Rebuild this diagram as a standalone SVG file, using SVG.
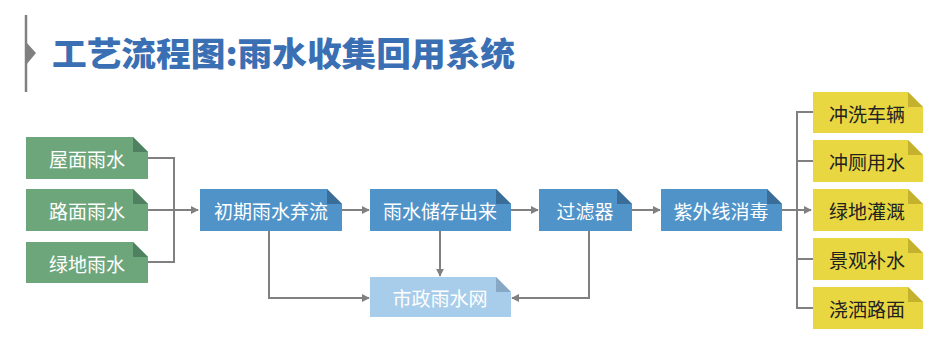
<svg xmlns="http://www.w3.org/2000/svg" width="952" height="363" viewBox="0 0 952 363">
<defs>
<style>
.t{font-family:"Noto Sans CJK SC","Noto Sans",sans-serif;font-size:19px;text-anchor:middle;dominant-baseline:central}
.w{fill:#ffffff}
.k{fill:#222222}
.g{fill:#6ea67c}.gf{fill:#4f8160}
.b{fill:#4f93c9}.bf{fill:#3a6e98}
.lb{fill:#a8cdea}.lbf{fill:#86a8c5}
.y{fill:#e8d740}.yf{fill:#c4b22e}
.ln{fill:none;stroke:#808080;stroke-width:2}
</style>
<marker id="ar" viewBox="0 0 10 10" refX="9" refY="5" markerWidth="8" markerHeight="8" orient="auto" markerUnits="userSpaceOnUse">
<path d="M0,0 L10,5 L0,10 z" fill="#808080"/>
</marker>
</defs>
<rect width="952" height="363" fill="#ffffff"/>
<g id="title">
<path d="M26,15 V92" stroke="#808080" stroke-width="2.5" fill="none"/>
<path d="M26,42 L36,53 L26,65 z" fill="#808080"/>
<text x="52" y="66" font-family="'Noto Sans CJK SC','Noto Sans',sans-serif" font-size="33" font-weight="900" fill="#3b6fb4" textLength="463" lengthAdjust="spacingAndGlyphs">工艺流程图:雨水收集回用系统</text>
</g>
<g id="connectors">
<path class="ln" d="M148,158 H174 V262 H148"/>
<path class="ln" d="M148,210 H198" marker-end="url(#ar)"/>
<path class="ln" d="M342,210 H369" marker-end="url(#ar)"/>
<path class="ln" d="M511,210 H538" marker-end="url(#ar)"/>
<path class="ln" d="M632,210 H660" marker-end="url(#ar)"/>
<path class="ln" d="M782,210 H811" marker-end="url(#ar)"/>
<path class="ln" d="M269,231 V298 H369" marker-end="url(#ar)"/>
<path class="ln" d="M440,231 V276" marker-end="url(#ar)"/>
<path class="ln" d="M589,231 V298 H512" marker-end="url(#ar)"/>
<path class="ln" d="M813,112 H797 V308 H813 M797,161 H813 M797,259 H813"/>
</g>
<g id="n1"><path class="g" d="M26,137 H133 L148,152 V179 H26 z"/><path class="gf" d="M133,137 L148,152 H133 z"/><text class="t w" x="87" y="158">屋面雨水</text></g>
<g id="n2"><path class="g" d="M26,189 H133 L148,204 V231 H26 z"/><path class="gf" d="M133,189 L148,204 H133 z"/><text class="t w" x="87" y="210">路面雨水</text></g>
<g id="n3"><path class="g" d="M26,242 H133 L148,257 V283 H26 z"/><path class="gf" d="M133,242 L148,257 H133 z"/><text class="t w" x="87" y="263">绿地雨水</text></g>
<g id="n4"><path class="b" d="M200,189 H327 L342,204 V231 H200 z"/><path class="bf" d="M327,189 L342,204 H327 z"/><text class="t w" x="271" y="210">初期雨水弃流</text></g>
<g id="n5"><path class="b" d="M370,189 H496 L511,204 V231 H370 z"/><path class="bf" d="M496,189 L511,204 H496 z"/><text class="t w" x="440" y="210">雨水储存出来</text></g>
<g id="n6"><path class="b" d="M539,189 H617 L632,204 V231 H539 z"/><path class="bf" d="M617,189 L632,204 H617 z"/><text class="t w" x="585" y="210">过滤器</text></g>
<g id="n7"><path class="b" d="M661,189 H767 L782,204 V231 H661 z"/><path class="bf" d="M767,189 L782,204 H767 z"/><text class="t w" x="721" y="210">紫外线消毒</text></g>
<g id="n8"><path class="lb" d="M370,277 H496 L511,292 V317 H370 z"/><path class="lbf" d="M496,277 L511,292 H496 z"/><text class="t w" x="440" y="297">市政雨水网</text></g>
<g id="n9"><path class="y" d="M813,92 H908 L923,107 V133 H813 z"/><path class="yf" d="M908,92 L923,107 H908 z"/><text class="t k" x="867" y="113">冲洗车辆</text></g>
<g id="n10"><path class="y" d="M813,140 H908 L923,155 V182 H813 z"/><path class="yf" d="M908,140 L923,155 H908 z"/><text class="t k" x="867" y="161">冲厕用水</text></g>
<g id="n11"><path class="y" d="M813,189 H908 L923,204 V231 H813 z"/><path class="yf" d="M908,189 L923,204 H908 z"/><text class="t k" x="867" y="210">绿地灌溉</text></g>
<g id="n12"><path class="y" d="M813,238 H908 L923,253 V280 H813 z"/><path class="yf" d="M908,238 L923,253 H908 z"/><text class="t k" x="867" y="259">景观补水</text></g>
<g id="n13"><path class="y" d="M813,287 H908 L923,302 V329 H813 z"/><path class="yf" d="M908,287 L923,302 H908 z"/><text class="t k" x="867" y="308">浇洒路面</text></g>
</svg>
